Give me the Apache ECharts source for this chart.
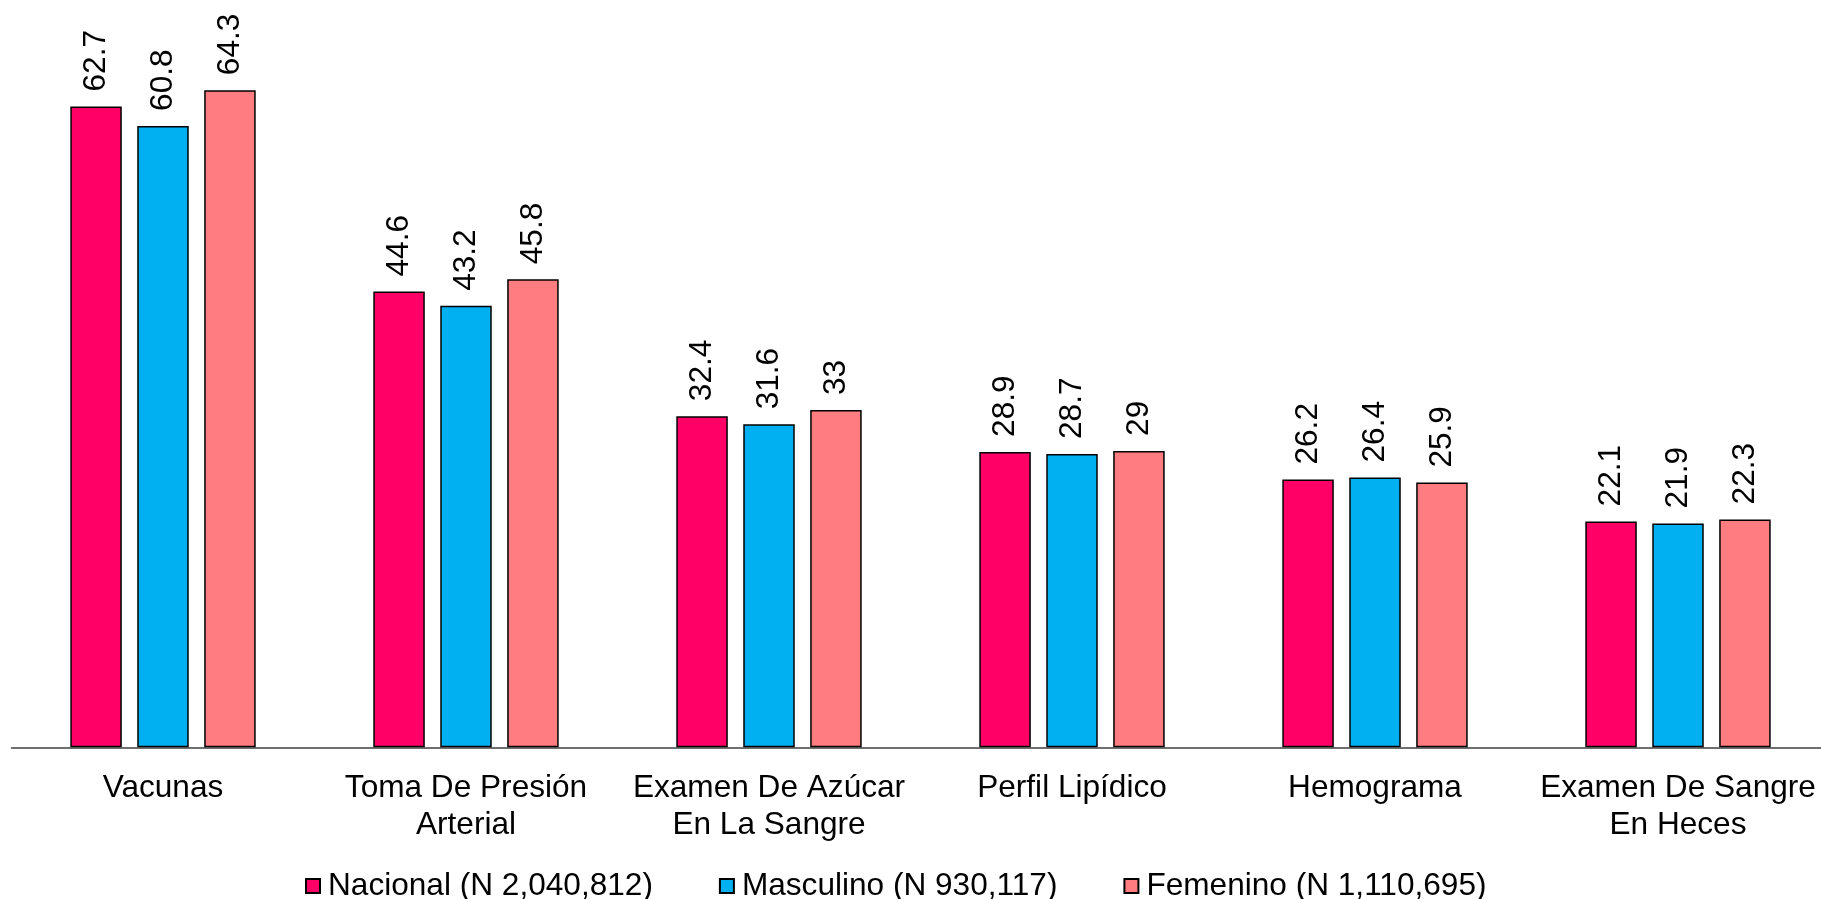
<!DOCTYPE html>
<html>
<head>
<meta charset="utf-8">
<script src="https://cdn.jsdelivr.net/npm/echarts@6/dist/echarts.min.js"></script>
<style>
  html, body { margin: 0; padding: 0; background: #fff; }
  #chart { width: 1821px; height: 899px; }
</style>
</head>
<body>
<div id="chart"></div>
<script>
var categories = [
  'Vacunas',
  'Toma De Presión\nArterial',
  'Examen De Azúcar\nEn La Sangre',
  'Perfil Lipídico',
  'Hemograma',
  'Examen De Sangre\nEn Heces'
];
var seriesNames = ['Nacional (N 2,040,812)', 'Masculino (N 930,117)', 'Femenino (N 1,110,695)'];
var nacional = [62.7, 44.6, 32.4, 28.9, 26.2, 22.1];
var masculino = [60.8, 43.2, 31.6, 28.7, 26.4, 21.9];
var femenino = [64.3, 45.8, 33, 29, 25.9, 22.3];
var colors = ['#FF0066', '#00B0F0', '#FF7C80'];

var font = "'Liberation Sans', Arial, sans-serif";
var fs = 31.6;
var chart = echarts.init(document.getElementById('chart'));

function makeSeries(name, data, color) {
  return {
    name: name,
    type: 'bar',
    data: data,
    barWidth: 51.5,
    barGap: '30%',
    itemStyle: { color: color, borderColor: '#000', borderWidth: 1.5 },
    label: {
      show: true,
      position: 'top',
      rotate: 90,
      align: 'left',
      verticalAlign: 'middle',
      distance: 15,
      color: '#000',
      fontFamily: font,
      fontSize: fs
    }
  };
}

var option = {
  animation: false,
  backgroundColor: '#fff',
  // grid runs a little past the right edge, like the original
  grid: { left: 11.5, width: 1818, top: 31.9, bottom: 151.7, outerBoundsMode: 'none', containLabel: false },
  legend: {
    data: seriesNames,
    left: 300,
    top: 865,
    itemWidth: 14,
    itemHeight: 14,
    itemGap: 66,
    icon: 'rect',
    textStyle: {
      color: '#000',
      fontFamily: font,
      fontSize: fs,
      lineHeight: 32,
      padding: [0, 0, 0, 3]
    }
  },
  xAxis: {
    type: 'category',
    data: categories,
    axisTick: { show: false },
    axisLine: { lineStyle: { color: '#404040', width: 1.5 } },
    axisLabel: {
      interval: 0,
      margin: 22,
      color: '#000',
      fontFamily: font,
      fontSize: fs,
      lineHeight: 37
    }
  },
  yAxis: {
    type: 'value',
    min: 0,
    max: 70,
    show: false
  },
  series: [
    makeSeries(seriesNames[0], nacional, colors[0]),
    makeSeries(seriesNames[1], masculino, colors[1]),
    makeSeries(seriesNames[2], femenino, colors[2])
  ]
};

chart.setOption(option);
</script>
</body>
</html>
